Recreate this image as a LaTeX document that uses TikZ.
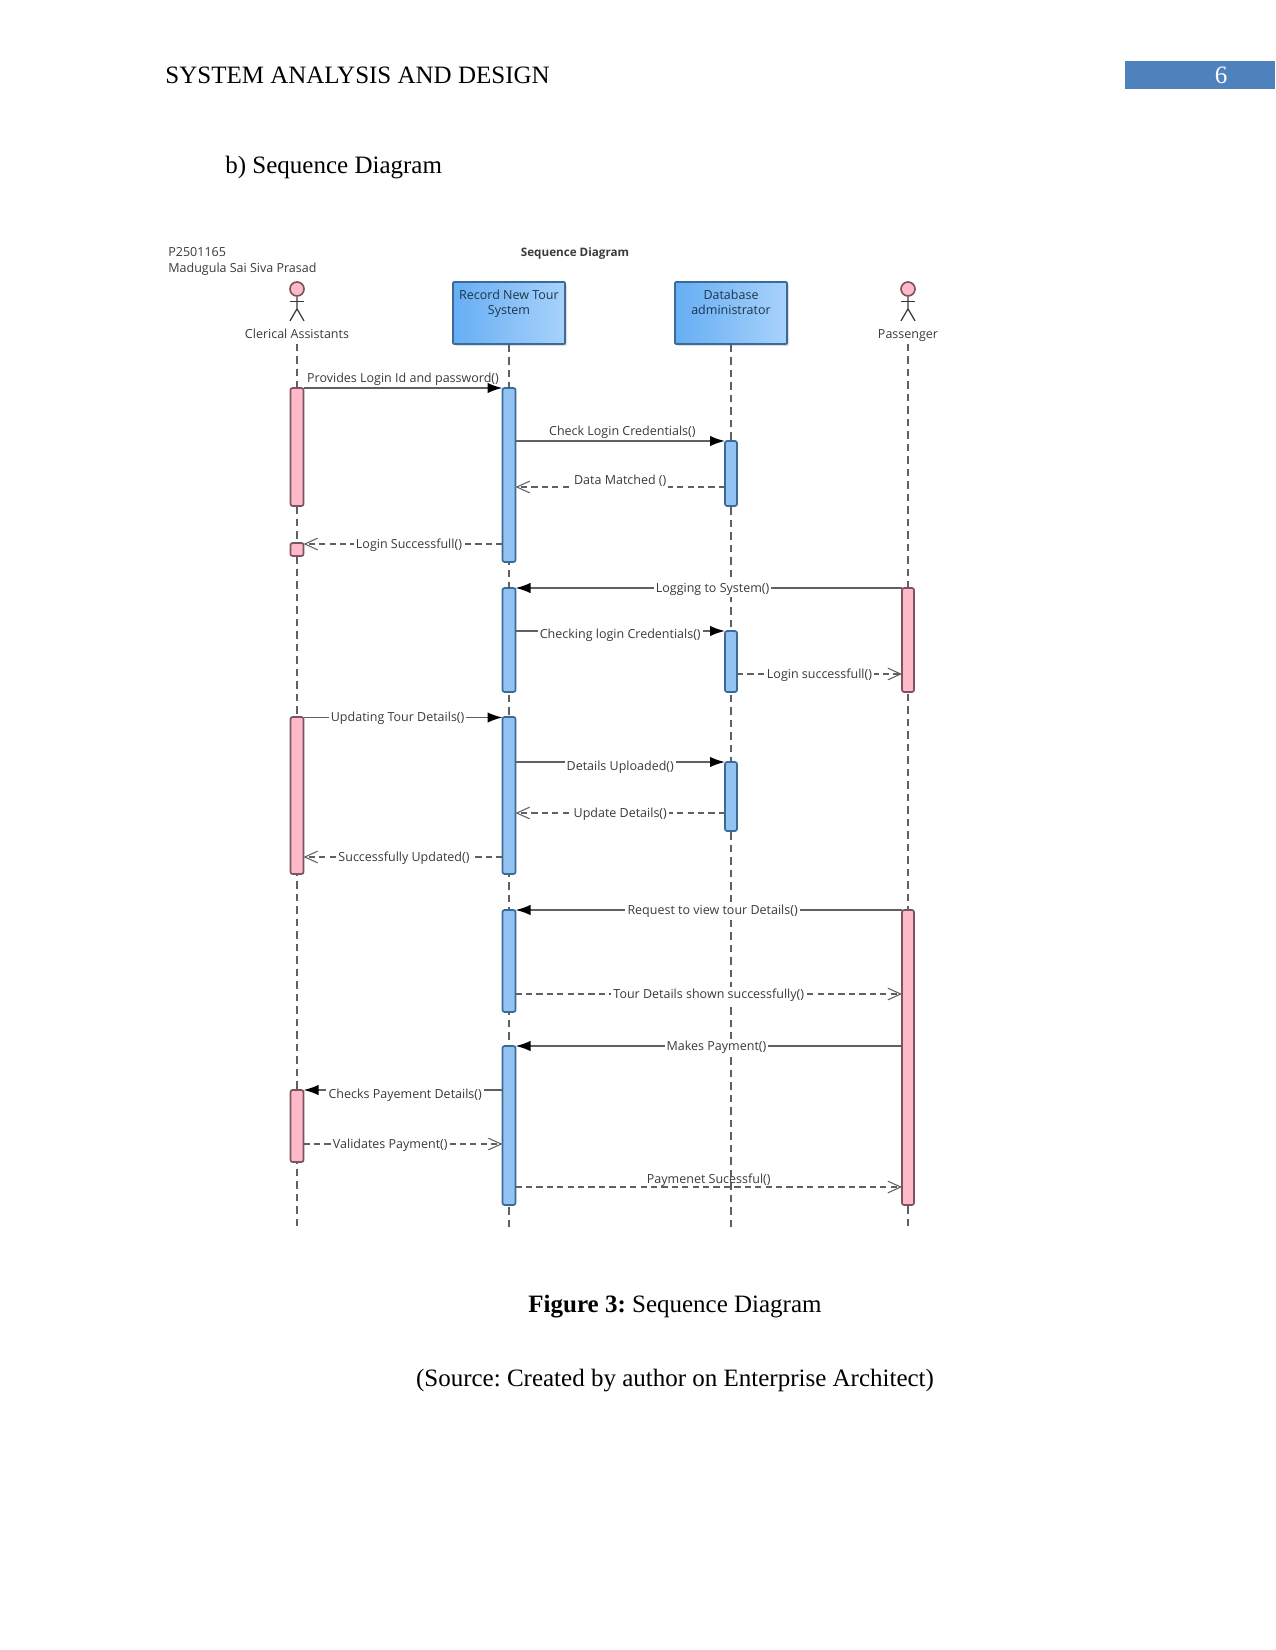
\documentclass[tikz,border=0pt]{standalone}
\usepackage{fontspec}
\setmainfont{Liberation Serif}
\newfontfamily\umlfont{Open Sans}
\usetikzlibrary{arrows.meta,positioning,shadows}

\definecolor{barblue}{HTML}{92C3F3}
\definecolor{boxleft}{HTML}{66AEF4}
\definecolor{boxright}{HTML}{A8D2FB}
\definecolor{barpink}{HTML}{FFB9C9}
\definecolor{edgeblue}{HTML}{3C6A96}
\definecolor{edgepink}{HTML}{7A5560}
\definecolor{umltext}{HTML}{3A3A3A}
\definecolor{linegray}{HTML}{606060}
\definecolor{headerblue}{HTML}{4F81BD}
\def\px{0.48pt}
\frenchspacing

\begin{document}
\begin{tikzpicture}[
        x=0.48pt, y=-0.48pt,
        page/.style={font=\fontsize{12}{14}\selectfont, text=black, inner sep=0pt},
        umllabel/.style={font=\umlfont\fontsize{6}{7}\selectfont, text=umltext, inner sep=0pt, text height=4.6pt, text depth=1.4pt},
        sysbox/.style={draw=edgeblue, thick, rounded corners=0.5pt, left color=boxleft, right color=boxright, drop shadow={shadow xshift=1pt, shadow yshift=-1pt, opacity=0.25}, align=center, text=edgeblue!50!black, font=\umlfont\fontsize{6}{7.4}\selectfont, minimum width=112*\px, minimum height=62*\px, inner sep=0pt},
        bluebar/.style={draw=edgeblue, thick, rounded corners=1pt, fill=barblue, anchor=north, minimum width=13*\px, inner sep=0pt, outer sep=0pt},
        pinkbar/.style={draw=edgepink, thick, rounded corners=1pt, fill=barpink, anchor=north, minimum width=13*\px, inner sep=0pt, outer sep=0pt},
        head/.style={draw=edgepink, thick, circle, fill=barpink, minimum size=14*\px, inner sep=0pt},
        lifeline/.style={draw=linegray, thick, dash pattern=on 3.6pt off 2.4pt},
        stick/.style={draw=umltext, semithick},
        call/.style={draw=linegray, thick, -{Latex[length=7.2pt, width=5pt, black]}},
        reply/.style={draw=linegray, semithick, dash pattern=on 3pt off 2pt, -{Straight Barb[length=6.2pt, width=5.6pt, line width=0.5pt]}},
        msg/.style={umllabel, fill=white, inner xsep=1pt, inner ysep=1pt, yshift=-0.5pt}]

        \useasboundingbox (0,0) rectangle (1275,1650);

        % Page header
        \node[page, anchor=west] (title) at (165,75) {SYSTEM ANALYSIS AND DESIGN};
        \node[fill=headerblue, anchor=north west, minimum width=150*\px, minimum height=28*\px, inner sep=0pt] (pagebox) at (1125,61) {};
        \node[page, text=white] (pageno) at (1221,75) {6};
        \node[page, anchor=west] (subtitle) at (225,168) {b) Sequence Diagram};

        % Diagram heading
        \node[umllabel, anchor=west] (idno) at (168,253) {P2501165};
        \node[umllabel, anchor=west] (student) at (168,269) {Madugula Sai Siva Prasad};
        \node[umllabel, font=\umlfont\bfseries\fontsize{5.6}{7}\selectfont] (seqtitle) at (575,253) {Sequence Diagram};

        % Lifeline heads
        \node[head] (clerkhead) at (297,289) {};
        \node[umllabel] (clerk) at (297,335) {Clerical Assistants};
        \node[sysbox] (system) at (509,313) {Record New Tour\\System\\[3pt]~};
        \node[sysbox] (admin) at (731,313) {Database\\administrator\\[3pt]~};
        \node[head] (passhead) at (908,289) {};
        \node[umllabel] (passenger) at (908,335) {Passenger};

        % Stick figures
        \draw[stick] (clerkhead.south) -- ++(0,12) coordinate (clerkhip) -- ++(-7,12);
        \draw[stick] (clerkhip) -- ++(7,12);
        \draw[stick] ([xshift=-7*\px,yshift=-5*\px]clerkhead.south) -- ++(14,0);
        \draw[stick] (passhead.south) -- ++(0,12) coordinate (pasship) -- ++(-7,12);
        \draw[stick] (pasship) -- ++(7,12);
        \draw[stick] ([xshift=-7*\px,yshift=-5*\px]passhead.south) -- ++(14,0);

        % Lifelines
        \coordinate (lifeend) at (0,1227);
        \draw[lifeline] ([yshift=-1pt]clerk.south) -- (clerk |- lifeend);
        \draw[lifeline] (system.south) -- (system |- lifeend);
        \draw[lifeline] (admin.south) -- (admin |- lifeend);
        \draw[lifeline] ([yshift=-1pt]passenger.south) -- (passenger |- lifeend);

        % Activation bars
        \node[pinkbar, minimum height=118*\px] (clerkA) at (297,388) {};
        \node[pinkbar, minimum height=13*\px] (clerkB) at (297,543) {};
        \node[pinkbar, minimum height=157*\px] (clerkC) at (297,717) {};
        \node[pinkbar, minimum height=72*\px] (clerkD) at (297,1090) {};

        \node[bluebar, minimum height=174*\px] (sysA) at (509,388) {};
        \node[bluebar, minimum height=104*\px] (sysB) at (509,588) {};
        \node[bluebar, minimum height=157*\px] (sysC) at (509,717) {};
        \node[bluebar, minimum height=102*\px] (sysD) at (509,910) {};
        \node[bluebar, minimum height=159*\px] (sysE) at (509,1046) {};

        \node[bluebar, minimum width=12*\px, minimum height=65*\px] (adminA) at (731,441) {};
        \node[bluebar, minimum width=12*\px, minimum height=61*\px] (adminB) at (731,631) {};
        \node[bluebar, minimum width=12*\px, minimum height=69*\px] (adminC) at (731,762) {};

        \node[pinkbar, minimum width=12*\px, minimum height=104*\px] (passA) at (908,588) {};
        \node[pinkbar, minimum width=12*\px, minimum height=295*\px] (passB) at (908,910) {};

        % Message rows
        \coordinate (rowA) at (0,388);
        \coordinate (rowB) at (0,441);
        \coordinate (rowC) at (0,487);
        \coordinate (rowD) at (0,544);
        \coordinate (rowE) at (0,588);
        \coordinate (rowF) at (0,631);
        \coordinate (rowG) at (0,674);
        \coordinate (rowH) at (0,717.5);
        \coordinate (rowI) at (0,762);
        \coordinate (rowJ) at (0,813);
        \coordinate (rowK) at (0,857);
        \coordinate (rowL) at (0,910);
        \coordinate (rowM) at (0,994);
        \coordinate (rowN) at (0,1046);
        \coordinate (rowO) at (0,1090);
        \coordinate (rowP) at (0,1144);
        \coordinate (rowQ) at (0,1187);

        % Messages
        \draw[call] (clerkA.east |- rowA) -- node[umllabel, above=1pt] {Provides Login Id and password()} (sysA.west |- rowA);
        \draw[call] (sysA.east |- rowB) -- node[umllabel, above=1pt, pos=0.51] {Check Login Credentials()} (adminA.west |- rowB);
        \draw[reply] (adminA.west |- rowC) -- node[msg, yshift=3.5pt] {Data Matched ()} (sysA.east |- rowC);
        \draw[reply] (sysA.west |- rowD) -- node[msg, pos=0.47] {Login Successfull()} (clerkB.east |- rowD);
        \draw[call] (passA.west |- rowE) -- node[msg, pos=0.49] {Logging to System()} (sysB.east |- rowE);
        \draw[call] (sysB.east |- rowF) -- node[msg, yshift=-1.5pt] {Checking login Credentials()} (adminB.west |- rowF);
        \draw[reply] (adminB.east |- rowG) -- node[msg] {Login successfull()} (passA.west |- rowG);
        \draw[call] (clerkC.east |- rowH) -- node[msg, pos=0.473] {Updating Tour Details()} (sysC.west |- rowH);
        \draw[call] (sysC.east |- rowI) -- node[msg, yshift=-2pt] {Details Uploaded()} (adminC.west |- rowI);
        \draw[reply] (adminC.west |- rowJ) -- node[msg] {Update Details()} (sysC.east |- rowJ);
        \draw[reply] (sysC.west |- rowK) -- node[msg, pos=0.495] {Successfully Updated()} (clerkC.east |- rowK);
        \draw[call] (passB.west |- rowL) -- node[msg, pos=0.49] {Request to view tour Details()} (sysD.east |- rowL);
        \draw[reply] (sysD.east |- rowM) -- node[msg] {Tour Details shown successfully()} (passB.west |- rowM);
        \draw[call] (passB.west |- rowN) -- node[msg, pos=0.48] {Makes Payment()} (sysE.east |- rowN);
        \draw[call] (sysE.west |- rowO) -- node[msg, yshift=-2pt, pos=0.489] {Checks Payement Details()} (clerkD.east |- rowO);
        \draw[reply] (clerkD.east |- rowP) -- node[msg, pos=0.436] {Validates Payment()} (sysE.west |- rowP);
        \draw[reply] (sysE.east |- rowQ) -- node[umllabel, above=0pt] {Paymenet Sucessful()} (passB.west |- rowQ);

        % Caption
        \node[page] (figcaption) at (675,1307) {\textbf{Figure 3:} Sequence Diagram};
        \node[page] (figsource) at (675,1381) {(Source: Created by author on Enterprise Architect)};

    \end{tikzpicture}
\end{document}
